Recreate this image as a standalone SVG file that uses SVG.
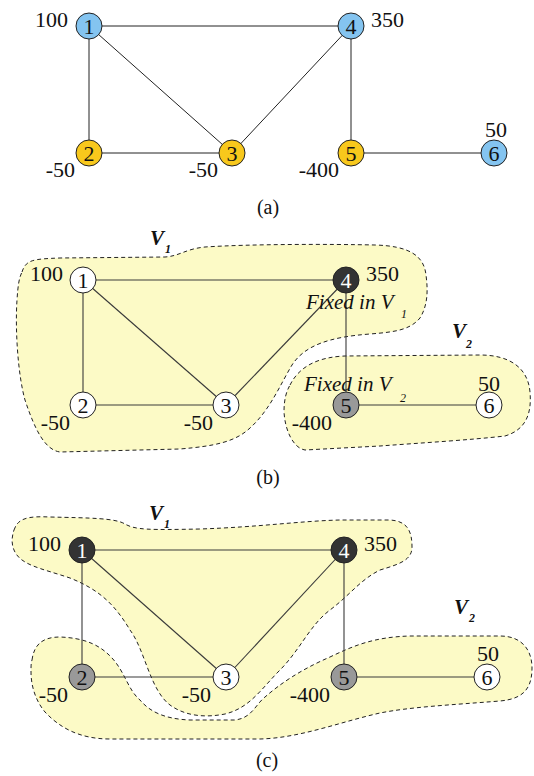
<svg xmlns="http://www.w3.org/2000/svg" width="534" height="776" viewBox="0 0 534 776" font-family="'Liberation Serif', 'Times New Roman', serif">
<style>
text{font-family:'Liberation Serif','Times New Roman',serif;fill:#111}
.w{font-size:22px}
.nd{font-size:22px;text-anchor:middle}
.e{stroke:#222;stroke-width:1;fill:none}
.e2{stroke:#3a3a3a;stroke-width:1.1;fill:none}
.n{stroke:#222;stroke-width:1}
.blue{fill:#84c4f0}
.yel{fill:#f8c81c}
.wht{fill:#fff}
.dk{fill:#333}
.gr{fill:#999}
.rg{fill:#fcfac6;stroke:#222;stroke-width:1;stroke-dasharray:4 3}
.lbl{font-size:21px;font-style:italic;font-weight:bold}
.sub{font-size:12px;font-style:italic}
.subb{font-size:12px;font-style:italic;font-weight:bold}
.fx{font-size:21px;font-style:italic}
.cap{font-size:20px;text-anchor:middle}
.end{text-anchor:end}
</style>

<!-- Panel (a) -->
<g id="a-connectors">
<line class="e" x1="89" y1="26" x2="351" y2="26"/>
<line class="e" x1="89" y1="26" x2="89" y2="153"/>
<line class="e" x1="89" y1="26" x2="232" y2="153"/>
<line class="e" x1="89" y1="153" x2="232" y2="153"/>
<line class="e" x1="232" y1="153" x2="351" y2="26"/>
<line class="e" x1="351" y1="26" x2="351" y2="153"/>
<line class="e" x1="351" y1="153" x2="494" y2="153"/>
</g>
<g id="a-n1"><circle class="n blue" cx="89" cy="26" r="13"/><text class="nd" x="89" y="33.5">1</text><text class="w end" x="68" y="27">100</text></g>
<g id="a-n2"><circle class="n yel" cx="89" cy="153" r="13"/><text class="nd" x="89" y="160.5">2</text><text class="w end" x="75" y="177">-50</text></g>
<g id="a-n3"><circle class="n yel" cx="232" cy="153" r="13"/><text class="nd" x="232" y="160.5">3</text><text class="w end" x="218" y="177">-50</text></g>
<g id="a-n4"><circle class="n blue" cx="351" cy="26" r="13"/><text class="nd" x="351" y="33.5">4</text><text class="w" x="371" y="27">350</text></g>
<g id="a-n5"><circle class="n yel" cx="351" cy="153" r="13"/><text class="nd" x="351" y="160.5">5</text><text class="w end" x="339" y="177">-400</text></g>
<g id="a-n6"><circle class="n blue" cx="494" cy="153" r="13"/><text class="nd" x="494" y="160.5">6</text><text class="w" x="485" y="137">50</text></g>
<text class="cap" x="268" y="214">(a)</text>

<!-- Panel (b) -->
<g id="b-V1">
<path class="rg" d="M 22,272 C 26,260 32,259 60,258 L 165,257 C 180,256 185,249 205,247 C 250,244 330,244 375,245 C 410,246 424,256 426,275 C 428,290 428,305 420,318 C 410,330 395,332 370,334 C 330,337 305,345 292,365 C 280,385 270,410 250,428 C 235,442 215,446 180,449 L 60,452 C 45,450 35,430 25,400 C 18,375 15,330 17,300 C 18,285 19,278 22,272 Z"/>
<text class="lbl" x="150" y="245">V</text><text class="subb" x="165" y="253">1</text>
</g>
<g id="b-V2">
<path class="rg" d="M 290,385 C 300,365 320,357 345,356 L 480,355 C 510,355 528,368 530,392 C 532,415 525,430 505,436 C 470,440 420,443 380,446 L 305,450 C 293,448 285,430 284,412 C 284,400 286,392 290,385 Z"/>
<text class="lbl" x="452" y="338">V</text><text class="subb" x="466" y="348">2</text>
</g>
<g id="b-connectors">
<line class="e2" x1="83" y1="280" x2="346" y2="280"/>
<line class="e2" x1="83" y1="280" x2="83" y2="405"/>
<line class="e2" x1="83" y1="280" x2="226" y2="405"/>
<line class="e2" x1="83" y1="405" x2="226" y2="405"/>
<line class="e2" x1="226" y1="405" x2="346" y2="280"/>
<line class="e2" x1="346" y1="280" x2="346" y2="405"/>
<line class="e2" x1="346" y1="405" x2="489" y2="405"/>
</g>
<g id="b-n1"><circle class="n wht" cx="83" cy="280" r="13"/><text class="nd" x="83" y="287.5">1</text><text class="w end" x="63" y="281">100</text></g>
<g id="b-n2"><circle class="n wht" cx="83" cy="405" r="13"/><text class="nd" x="83" y="412.5">2</text><text class="w end" x="70" y="430">-50</text></g>
<g id="b-n3"><circle class="n wht" cx="226" cy="405" r="13"/><text class="nd" x="226" y="412.5">3</text><text class="w end" x="213" y="430">-50</text></g>
<g id="b-n4"><circle class="n dk" cx="346" cy="280" r="13"/><text class="nd" x="346" y="287.5" style="fill:#fff">4</text><text class="w" x="366" y="281">350</text>
<text class="fx" x="306" y="309">Fixed in V</text><text class="sub" x="401" y="318">1</text></g>
<g id="b-n5"><circle class="n gr" cx="346" cy="405" r="13"/><text class="nd" x="346" y="412.5">5</text><text class="w end" x="332" y="430">-400</text>
<text class="fx" x="304" y="391">Fixed in V</text><text class="sub" x="400" y="402">2</text></g>
<g id="b-n6"><circle class="n wht" cx="489" cy="405" r="13"/><text class="nd" x="489" y="412.5">6</text><text class="w" x="478" y="391">50</text></g>
<text class="cap" x="268" y="484">(b)</text>

<!-- Panel (c) -->
<g id="c-V1">
<path class="rg" d="M 14,530 C 18,518 28,516 50,517 C 90,518 115,518 125,524 C 135,530 150,530 200,529 C 260,527 300,521 340,520 L 390,520 C 408,521 412,532 412,547 C 412,560 400,564 380,570 C 360,580 350,595 330,610 C 310,625 300,650 280,670 C 262,688 250,708 225,714 C 205,718 185,716 170,705 C 150,690 145,650 130,630 C 115,605 100,590 70,578 C 40,568 20,565 14,550 C 11,543 12,536 14,530 Z"/>
<text class="lbl" x="149" y="520">V</text><text class="subb" x="164" y="528">1</text>
</g>
<g id="c-V2">
<path class="rg" d="M 32,660 C 34,645 42,637 60,637 C 85,638 100,645 112,658 C 125,672 128,690 140,700 C 150,712 165,719 190,720 L 235,720 C 252,718 255,705 265,697 C 280,684 300,670 330,657 C 355,645 375,637 410,636 L 500,636 C 522,636 532,650 532,668 C 532,690 522,699 500,701 C 450,705 410,707 380,713 C 340,722 300,738 260,739 L 110,739 C 80,739 60,728 45,712 C 35,700 31,685 31,672 C 31,666 31,663 32,660 Z"/>
<text class="lbl" x="454" y="614">V</text><text class="subb" x="469" y="622">2</text>
</g>
<g id="c-connectors">
<line class="e2" x1="82" y1="550" x2="344" y2="550"/>
<line class="e2" x1="82" y1="550" x2="82" y2="677"/>
<line class="e2" x1="82" y1="550" x2="226" y2="677"/>
<line class="e2" x1="82" y1="677" x2="226" y2="677"/>
<line class="e2" x1="226" y1="677" x2="344" y2="550"/>
<line class="e2" x1="344" y1="550" x2="344" y2="677"/>
<line class="e2" x1="344" y1="677" x2="487" y2="677"/>
</g>
<g id="c-n1"><circle class="n dk" cx="82" cy="550" r="13"/><text class="nd" x="82" y="557.5" style="fill:#fff">1</text><text class="w end" x="61" y="551">100</text></g>
<g id="c-n2"><circle class="n gr" cx="82" cy="677" r="13"/><text class="nd" x="82" y="684.5">2</text><text class="w end" x="68" y="702">-50</text></g>
<g id="c-n3"><circle class="n wht" cx="226" cy="677" r="13"/><text class="nd" x="226" y="684.5">3</text><text class="w end" x="211" y="702">-50</text></g>
<g id="c-n4"><circle class="n dk" cx="344" cy="550" r="13"/><text class="nd" x="344" y="557.5" style="fill:#fff">4</text><text class="w" x="364" y="551">350</text></g>
<g id="c-n5"><circle class="n gr" cx="344" cy="677" r="13"/><text class="nd" x="344" y="684.5">5</text><text class="w end" x="330" y="702">-400</text></g>
<g id="c-n6"><circle class="n wht" cx="487" cy="677" r="13"/><text class="nd" x="487" y="684.5">6</text><text class="w" x="477" y="661">50</text></g>
<text class="cap" x="267" y="767">(c)</text>
</svg>
